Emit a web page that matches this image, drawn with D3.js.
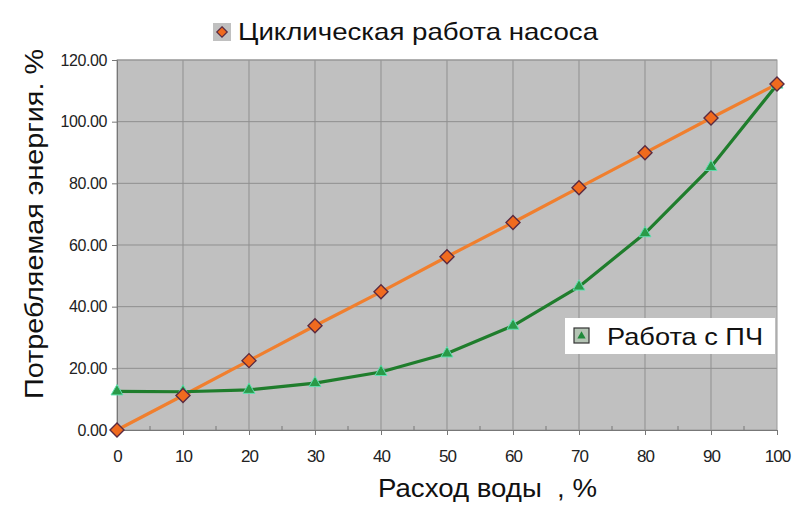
<!DOCTYPE html>
<html>
<head>
<meta charset="utf-8">
<script src="https://cdn.jsdelivr.net/npm/d3@7"></script>
<style>
  html, body { margin: 0; padding: 0; background: #fff; }
  svg { display: block; font-family: "Liberation Sans", Arial, sans-serif; }
  text { white-space: pre; }
</style>
</head>
<body>
<svg id="chart" width="802" height="508"></svg>
<script>
// Water flow, % of nominal
const flow = [0, 10, 20, 30, 40, 50, 60, 70, 80, 90, 100];
// Energy consumed with cyclic (on/off) pump operation, %
const cyclic = [0, 11.2, 22.5, 33.8, 44.8, 56.2, 67.3, 78.6, 89.9, 101.2, 112.2];
// Energy consumed with a frequency converter, %
const vfd = [12.5, 12.4, 13.0, 15.2, 18.8, 24.8, 33.8, 46.5, 63.8, 85.3, 112.0];
const yTicks = [0, 20, 40, 60, 80, 100, 120];
const xTicks = [0, 10, 20, 30, 40, 50, 60, 70, 80, 90, 100];
const xMinor = [5, 15, 25, 35, 45, 55, 65, 75, 85, 95];
const seriesNames = ["Циклическая работа насоса", "Работа с ПЧ"];
const xTitle = "Расход воды  , %";
const yTitle = "Потребляемая энергия. %";

const svg = d3.select("#chart");
const plot = { left: 117, top: 60, right: 777, bottom: 430 };

const x = d3.scaleLinear().domain([0, 100]).range([plot.left, plot.right]);
const y = d3.scaleLinear().domain([0, 120]).range([plot.bottom, plot.top]);

// Plot background
svg.append("rect")
  .attr("x", plot.left).attr("y", plot.top)
  .attr("width", plot.right - plot.left).attr("height", plot.bottom - plot.top)
  .attr("fill", "#c0c0c0");

// Grid lines
svg.append("g").selectAll("line").data(yTicks.filter(d => d > 0)).join("line")
  .attr("x1", plot.left).attr("x2", plot.right)
  .attr("y1", d => y(d)).attr("y2", d => y(d))
  .attr("stroke", "#8f8f8f").attr("stroke-width", 1);
svg.append("g").selectAll("line").data(xTicks.filter(d => d > 0 && d < 100)).join("line")
  .attr("y1", plot.top).attr("y2", plot.bottom)
  .attr("x1", d => x(d)).attr("x2", d => x(d))
  .attr("stroke", "#8f8f8f").attr("stroke-width", 1);

// Frame
svg.append("rect")
  .attr("x", plot.left).attr("y", plot.top)
  .attr("width", plot.right - plot.left).attr("height", plot.bottom - plot.top)
  .attr("fill", "none").attr("stroke", "#9a9a9a").attr("stroke-width", 1);

// Axes
const yAxis = d3.axisLeft(y).tickValues(yTicks).tickSize(5).tickPadding(5)
  .tickFormat(d3.format(".2f"));
const gy = svg.append("g").attr("transform", `translate(${plot.left},0)`).call(yAxis);
gy.select(".domain").attr("stroke", "#777");
gy.selectAll(".tick line").attr("stroke", "#777");
gy.selectAll("text").attr("font-size", 16).attr("fill", "#222")
  .attr("letter-spacing", "-0.4px");

const xAxis = d3.axisBottom(x).tickValues(xTicks).tickSize(5).tickPadding(15)
  .tickFormat(d3.format("d"));
const gx = svg.append("g").attr("transform", `translate(0,${plot.bottom})`).call(xAxis);
gx.select(".domain").attr("stroke", "#777");
gx.selectAll(".tick line").attr("stroke", "#777");
gx.selectAll("text").attr("font-size", 17).attr("fill", "#222")
  .attr("letter-spacing", "-1px");

// Minor ticks inside the plot on the x axis
svg.append("g").selectAll("line").data(xMinor).join("line")
  .attr("x1", d => x(d)).attr("x2", d => x(d))
  .attr("y1", plot.bottom).attr("y2", plot.bottom - 4)
  .attr("stroke", "#777");

// Axis titles
svg.append("text")
  .attr("x", 378).attr("y", 497)
  .attr("font-size", 26).attr("fill", "#111")
  .attr("textLength", 219).attr("lengthAdjust", "spacingAndGlyphs")
  .text(xTitle);
svg.append("text")
  .attr("transform", "translate(43,399) rotate(-90)")
  .attr("font-size", 26).attr("fill", "#111")
  .attr("textLength", 350).attr("lengthAdjust", "spacingAndGlyphs")
  .text(yTitle);

// Lines
const line = d3.line().x((d, i) => x(flow[i])).y(d => y(d));
svg.append("path").datum(cyclic)
  .attr("d", line).attr("fill", "none")
  .attr("stroke", "#f07f2e").attr("stroke-width", 3.2);
svg.append("path").datum(vfd)
  .attr("d", line).attr("fill", "none")
  .attr("stroke", "#1f7d2c").attr("stroke-width", 3.2);

// Markers
const diamond = d3.symbol().type(d3.symbolDiamond2).size(125);
const triangle = d3.symbol().type(d3.symbolTriangle).size(62);

svg.append("g").selectAll("path").data(vfd).join("path")
  .attr("transform", (d, i) => `translate(${x(flow[i])},${y(d)})`)
  .attr("d", triangle)
  .attr("fill", "#2a9a48").attr("stroke", "#5fe0b0").attr("stroke-width", 1);

svg.append("g").selectAll("path").data(cyclic).join("path")
  .attr("transform", (d, i) => `translate(${x(flow[i])},${y(d)})`)
  .attr("d", diamond)
  .attr("fill", "#f06a1e").attr("stroke", "#5a2a40").attr("stroke-width", 1.4);

// Legend: cyclic operation (top)
const lg1 = svg.append("g").attr("transform", "translate(222,32)");
lg1.append("rect").attr("x", -9).attr("y", -9).attr("width", 18).attr("height", 18)
  .attr("fill", "#c0c0c0");
lg1.append("path").attr("d", d3.symbol().type(d3.symbolDiamond2).size(70))
  .attr("fill", "#f06a1e").attr("stroke", "#5a2a40").attr("stroke-width", 1.2);
lg1.append("text").attr("x", 16).attr("y", 8)
  .attr("font-size", 24).attr("fill", "#111")
  .attr("textLength", 360).attr("lengthAdjust", "spacingAndGlyphs")
  .text(seriesNames[0]);

// Legend: frequency converter (inside plot)
const lg2 = svg.append("g");
lg2.append("rect").attr("x", 565).attr("y", 318).attr("width", 210).attr("height", 36)
  .attr("fill", "#fff");
lg2.append("rect").attr("x", 574).attr("y", 328).attr("width", 15).attr("height", 15)
  .attr("fill", "#b4c4b4").attr("stroke", "#333").attr("stroke-width", 1.2);
lg2.append("path").attr("transform", "translate(581.5,336)")
  .attr("d", d3.symbol().type(d3.symbolTriangle).size(30))
  .attr("fill", "#1f8a3a");
lg2.append("text").attr("x", 607).attr("y", 345)
  .attr("font-size", 24).attr("fill", "#111")
  .attr("textLength", 156).attr("lengthAdjust", "spacingAndGlyphs")
  .text(seriesNames[1]);
</script>
</body>
</html>
